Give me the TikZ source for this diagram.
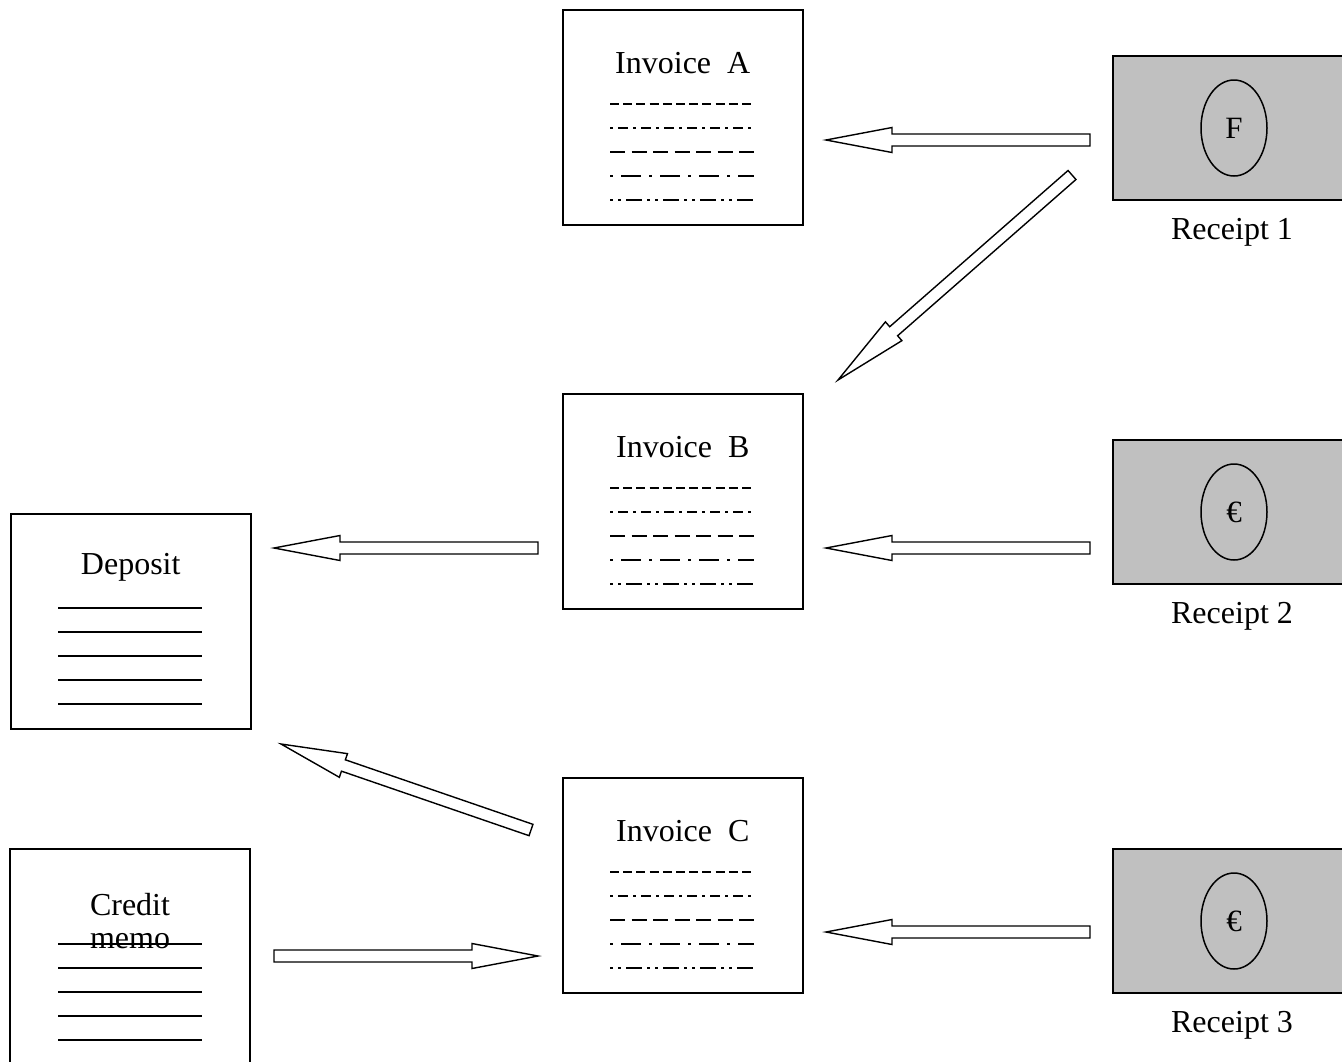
\documentclass[tikz,border=0pt]{standalone}
\usepackage{fontspec}
\setmainfont{Liberation Serif}
\usetikzlibrary{calc,shapes.geometric}
\definecolor{rgray}{RGB}{192,192,192}
\tikzset{
  doc/.style={draw, line width=1.5pt, minimum width=240pt, minimum height=215pt, inner sep=0pt, anchor=north west},
  lbl/.style={font=\fontsize{32}{36}\selectfont, inner sep=0pt, align=center},
  oval/.style={draw, ellipse, line width=1.5pt, minimum width=66pt, minimum height=96pt, inner sep=0pt, font=\fontsize{31}{36}\selectfont},
  barrow/.style={draw, line width=1.4pt, fill=white, line join=miter},
  dl/.style={line width=2.6pt},
  sl/.style={line width=1.8pt},
  pa/.style={dash pattern=on 9pt off 4.2pt},
  pb/.style={dash pattern=on 3pt off 5pt on 10pt off 5pt},
  pc/.style={dash pattern=on 15pt off 6.5pt},
  pd/.style={dash pattern=on 3pt off 8pt on 20pt off 8pt},
  pe/.style={dash pattern=on 3pt off 5pt on 3pt off 5pt on 16pt off 5pt},
}
\newcommand\blockarr[3]{%
  \coordinate (hb) at ($(#2)!#3!(#1)$);
  \draw[barrow] ($(#1)!6pt!90:(#2)$) -- ($(hb)!6pt!90:(#2)$) -- ($(hb)!12.5pt!90:(#2)$)
    -- (#2) -- ($(hb)!12.5pt!-90:(#2)$) -- ($(hb)!6pt!-90:(#2)$) -- ($(#1)!6pt!-90:(#2)$) -- cycle;
}
\newcommand\invoicebox[4]{%
  \node[doc] (#1) at (#2,#3) {};
  \node[lbl] (#1t) at ($(#1.north)+(0,54)$) {Invoice~~#4};
  \draw[dl,pa] ($(#1.north west)+(48,95)$) -- ++(144,0);
  \draw[dl,pb] ($(#1.north west)+(48,119)$) -- ++(144,0);
  \draw[dl,pc] ($(#1.north west)+(48,143)$) -- ++(144,0);
  \draw[dl,pd] ($(#1.north west)+(48,167)$) -- ++(144,0);
  \draw[dl,pe] ($(#1.north west)+(48,191)$) -- ++(144,0);
}
\newcommand\receiptbox[4]{%
  \fill[rgray] (1113,#2) rectangle (1342,#2+144);
  \draw[line width=1.5pt] (1342,#2) -- (1113,#2) -- (1113,#2+144) -- (1342,#2+144);
  \coordinate (#1) at (1113,#2);
  \node[oval] (#1o) at (1234,#2+72) {\raisebox{-3pt}{#3}};
  \node[lbl] (#1l) at (1232,#2+176) {#4};
}
\begin{document}
\begin{tikzpicture}[x=1pt,y=-1pt]
\useasboundingbox (0,0) rectangle (1342,1061);

\invoicebox{invA}{562}{9}{A}
\invoicebox{invB}{562}{393}{B}
\invoicebox{invC}{562}{777}{C}

\receiptbox{r1}{56}{F}{Receipt 1}
\receiptbox{r2}{440}{€}{Receipt 2}
\receiptbox{r3}{849}{€}{Receipt 3}

% Deposit
\node[doc] (dep) at (10,513) {};
\node[lbl] (dept) at ($(dep.north)+(0,54)$) {Deposit};
\foreach \i in {0,...,4}
  \draw[sl] ($(dep.north west)+(48,95+24*\i)$) -- ++(144,0);

% Credit memo (bottom edge outside the picture)
\draw[line width=1.5pt] (10,1070) -- (10,849) -- (250,849) -- (250,1070);
\coordinate (cm) at (10,849);
\node[lbl] (cmt) at (130,921) {Credit\\[-3pt]memo};
\foreach \i in {0,...,4}
  \draw[sl] ($(cm)+(48,95+24*\i)$) -- ++(144,0);

% arrows
\coordinate (a1t) at (1090,140); \coordinate (a1h) at (826,140);
\coordinate (a6t) at (1072,175); \coordinate (a6h) at (838,380);
\coordinate (a2t) at (1090,548); \coordinate (a2h) at (826,548);
\coordinate (a3t) at (538,548);  \coordinate (a3h) at (274,548);
\coordinate (a7t) at (531,830);  \coordinate (a7h) at (281,744);
\coordinate (a4t) at (1090,932); \coordinate (a4h) at (826,932);
\coordinate (a5t) at (274,956);  \coordinate (a5h) at (538,956);

\blockarr{a1t}{a1h}{66pt}
\blockarr{a6t}{a6h}{74pt}
\blockarr{a2t}{a2h}{66pt}
\blockarr{a3t}{a3h}{66pt}
\blockarr{a7t}{a7h}{66pt}
\blockarr{a4t}{a4h}{66pt}
\blockarr{a5t}{a5h}{66pt}
\end{tikzpicture}
\end{document}
